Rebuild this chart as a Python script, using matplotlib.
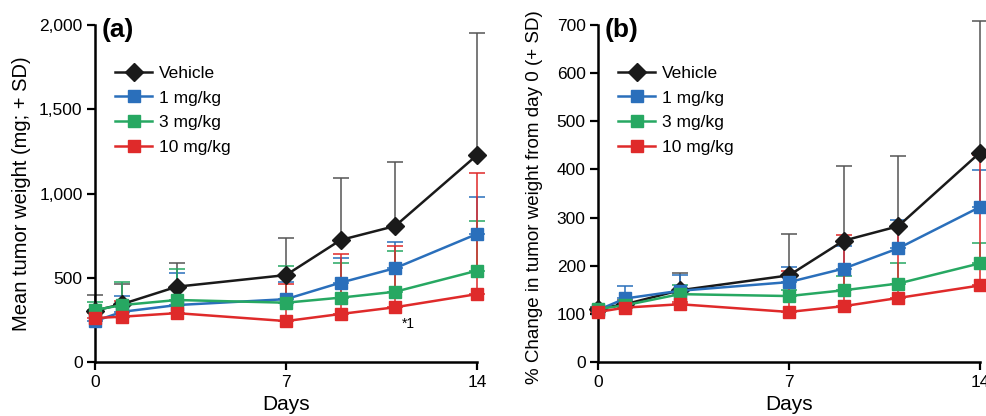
import matplotlib
matplotlib.use("Agg")
import matplotlib.pyplot as plt
from matplotlib.ticker import FuncFormatter

plt.rcParams['font.family'] = ['Liberation Sans', 'DejaVu Sans']

days = [0, 1, 3, 7, 9, 11, 14]
groups = ["Vehicle", "1 mg/kg", "3 mg/kg", "10 mg/kg"]
colors = ["#1a1a1a", "#2a6fbb", "#27a862", "#df2a2a"]
markers = ["D", "s", "s", "s"]

# panel (a): mean tumor weight (mg) and upper SD end
weight_mean = {
    "Vehicle": [305, 344, 447, 516, 724, 807, 1228],
    "1 mg/kg": [243, 298, 338, 373, 471, 557, 760],
    "3 mg/kg": [309, 338, 368, 352, 382, 417, 542],
    "10 mg/kg": [261, 269, 290, 243, 285, 325, 403],
}
weight_top = {
    "Vehicle": [395, 462, 589, 735, 1090, 1187, 1954],
    "1 mg/kg": [300, 393, 527, 476, 615, 711, 981],
    "3 mg/kg": [355, 472, 551, 570, 586, 660, 838],
    "10 mg/kg": [290, 365, 437, 463, 640, 690, 1120],
}

# panel (b): % change from day 0 and upper SD end
change_mean = {
    "Vehicle": [111, 120, 149, 180, 252, 282, 435],
    "1 mg/kg": [108, 132, 148, 166, 194, 236, 322],
    "3 mg/kg": [110, 118, 141, 137, 149, 163, 205],
    "10 mg/kg": [104, 113, 120, 104, 116, 133, 159],
}
change_top = {
    "Vehicle": [115, 128, 184, 265, 407, 428, 708],
    "1 mg/kg": [112, 158, 180, 197, 240, 295, 398],
    "3 mg/kg": [113, 125, 160, 150, 178, 205, 248],
    "10 mg/kg": [106, 120, 125, 189, 263, 281, 430],
}


def draw_panel(ax, means, tops, ymax, ystep, ylabel, ylabel_size, tag):
    for g, c in zip(groups, colors):
        m = means[g]
        up = [t - v for t, v in zip(tops[g], m)]
        ecol = "#555555" if g == "Vehicle" else c
        ax.errorbar(days, m, yerr=[[0] * len(m), up], fmt="none", ecolor=ecol,
                    elinewidth=1.3, capsize=6, capthick=1.3, alpha=0.85,
                    clip_on=False, zorder=2)
    for g, c, mk in zip(groups, colors, markers):
        ms = 9 if mk == "D" else 8
        ax.plot(days, means[g], color=c, marker=mk, markersize=ms, lw=1.8,
                label=g, clip_on=False, zorder=3)
    ax.set_xlim(0, 14)
    ax.set_ylim(0, ymax)
    ax.set_xticks([0, 7, 14])
    ax.set_yticks(range(0, ymax + 1, ystep))
    ax.yaxis.set_major_formatter(FuncFormatter(lambda v, p: f"{int(v):,}"))
    for s in ["top", "right"]:
        ax.spines[s].set_visible(False)
    for s in ["left", "bottom"]:
        ax.spines[s].set_linewidth(1.8)
    ax.tick_params(axis="both", direction="out", length=6, width=1.6,
                   labelsize=12.5, pad=3)
    ax.set_xlabel("Days", fontsize=15, labelpad=4)
    ax.set_ylabel(ylabel, fontsize=ylabel_size, labelpad=6)
    ax.text(0.018, 0.985, tag, transform=ax.transAxes, fontsize=19,
            fontweight="bold", va="center", ha="left")
    ax.legend(loc="upper left", bbox_to_anchor=(0.035, 0.90), frameon=False,
              fontsize=12.5, handlelength=2.1, handletextpad=0.4,
              labelspacing=0.55, borderaxespad=0)


fig = plt.figure(figsize=(9.87, 4.16), dpi=100)
ax1 = fig.add_axes([0.0963, 0.1298, 0.387, 0.81])
ax2 = fig.add_axes([0.6059, 0.1298, 0.387, 0.81])

draw_panel(ax1, weight_mean, weight_top, 2000, 500,
           "Mean tumor weight (mg; + SD)", 14.5, "(a)")
ax1.text(11.25, 225, "*1", fontsize=10, ha="left", va="center")

draw_panel(ax2, change_mean, change_top, 700, 100,
           "% Change in tumor weight from day 0 (+ SD)", 13.5, "(b)")
ax2.yaxis.set_label_coords(-0.145, 0.49)

fig.savefig("out.png", dpi=100)
